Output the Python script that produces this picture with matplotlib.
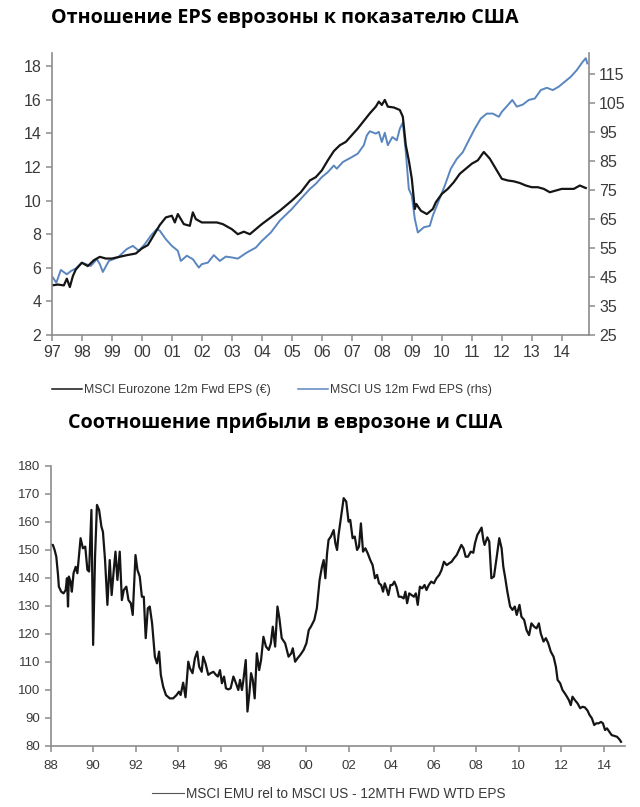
import matplotlib
matplotlib.use("Agg")
import matplotlib.pyplot as plt

# --- Верхний график: 12m Fwd EPS, еврозона (левая ось) и США (правая ось) ---
ez_years = [1997.0, 1997.2, 1997.4, 1997.5, 1997.6, 1997.7, 1997.8, 1998.0, 1998.2, 1998.4,
            1998.6, 1998.8, 1999.0, 1999.5, 1999.8, 2000.0, 2000.2, 2000.4, 2000.6, 2000.8,
            2001.0, 2001.1, 2001.2, 2001.4, 2001.6, 2001.7, 2001.8, 2002.0, 2002.5, 2002.7,
            2003.0, 2003.2, 2003.4, 2003.6, 2003.8, 2004.0, 2004.3, 2004.6, 2005.0, 2005.3,
            2005.6, 2005.8, 2006.0, 2006.2, 2006.4, 2006.6, 2006.8, 2007.0, 2007.2, 2007.4,
            2007.6, 2007.8, 2007.9, 2008.0, 2008.1, 2008.2, 2008.4, 2008.6, 2008.7, 2008.8,
            2008.9, 2009.0, 2009.1, 2009.15, 2009.3, 2009.5, 2009.7, 2009.8, 2010.0, 2010.2,
            2010.4, 2010.6, 2010.8, 2011.0, 2011.2, 2011.4, 2011.6, 2011.8, 2012.0, 2012.2,
            2012.4, 2012.6, 2012.8, 2013.0, 2013.2, 2013.4, 2013.6, 2013.8, 2014.0, 2014.2,
            2014.4, 2014.6, 2014.8]
ez_eps = [4.95, 5.0, 4.95, 5.35, 4.85, 5.5, 5.9, 6.3, 6.1, 6.45,
          6.65, 6.55, 6.55, 6.75, 6.85, 7.15, 7.35, 7.95, 8.55, 9.0,
          9.1, 8.7, 9.2, 8.6, 8.5, 9.3, 8.9, 8.7, 8.7, 8.6,
          8.3, 8.0, 8.15, 8.0, 8.3, 8.6, 9.0, 9.4, 10.0, 10.5,
          11.2, 11.4, 11.8, 12.4, 12.95, 13.3, 13.5, 13.9, 14.3, 14.75,
          15.2, 15.6, 15.9, 15.7, 16.0, 15.6, 15.55, 15.4, 15.0, 13.3,
          12.4, 11.3, 9.5, 9.8, 9.4, 9.2, 9.5, 9.9, 10.4, 10.7,
          11.1, 11.6, 11.9, 12.2, 12.4, 12.9, 12.5, 11.9, 11.3, 11.2,
          11.15, 11.05, 10.9, 10.8, 10.8, 10.7, 10.5, 10.6, 10.7, 10.7,
          10.7, 10.9, 10.75]

us_years = [1997.0, 1997.15, 1997.3, 1997.5, 1997.65, 1997.8, 1998.0, 1998.3, 1998.5, 1998.6,
            1998.7, 1998.9, 1999.2, 1999.5, 1999.7, 1999.9, 2000.1, 2000.3, 2000.5, 2000.6,
            2000.8, 2001.0, 2001.2, 2001.3, 2001.5, 2001.7, 2001.9, 2002.0, 2002.2, 2002.4,
            2002.6, 2002.8, 2003.0, 2003.2, 2003.5, 2003.8, 2004.0, 2004.3, 2004.6, 2005.0,
            2005.3, 2005.6, 2005.8, 2006.0, 2006.2, 2006.4, 2006.5, 2006.7, 2007.0, 2007.2,
            2007.4, 2007.5, 2007.6, 2007.8, 2007.9, 2008.0, 2008.1, 2008.2, 2008.35, 2008.5,
            2008.6, 2008.7, 2008.8, 2008.9, 2009.0, 2009.1, 2009.2, 2009.4, 2009.6, 2009.7,
            2009.9, 2010.1, 2010.3, 2010.5, 2010.7, 2010.9, 2011.1, 2011.3, 2011.5, 2011.7,
            2011.9, 2012.0, 2012.2, 2012.35, 2012.5, 2012.7, 2012.9, 2013.1, 2013.3, 2013.5,
            2013.7, 2013.9, 2014.1, 2014.3, 2014.5, 2014.7, 2014.8, 2014.85]
us_eps = [45.3, 43.0, 47.4, 45.9, 47.1, 47.9, 49.9, 48.8, 51.1, 49.4,
          46.7, 50.5, 51.7, 54.6, 55.7, 54.0, 56.3, 59.2, 61.5, 60.9,
          58.0, 55.7, 54.0, 50.5, 52.3, 51.1, 48.2, 49.4, 49.9, 52.5,
          50.5, 52.0, 51.7, 51.3, 53.4, 55.1, 57.4, 60.3, 64.4, 68.4,
          71.9, 75.3, 77.1, 79.4, 81.1, 83.4, 82.3, 84.6, 86.3, 87.5,
          90.4, 93.8, 95.2, 94.4, 95.0, 91.5, 94.7, 90.4, 93.2, 92.1,
          96.1, 98.2, 88.0, 75.3, 73.0, 65.0, 60.3, 62.1, 62.6, 66.1,
          71.3, 76.5, 82.3, 85.7, 88.0, 92.1, 96.1, 99.6, 101.3, 101.3,
          100.2, 101.9, 104.2, 106.0, 103.7, 104.4, 106.0, 106.5, 109.4, 110.2,
          109.4, 110.6, 112.3, 114.0, 116.3, 119.2, 120.4, 118.6]

top_ticks = list(range(1997, 2015))
top_labels = ["%02d" % (y % 100) for y in top_ticks]
left_ticks = [2, 4, 6, 8, 10, 12, 14, 16, 18]
right_ticks = [25, 35, 45, 55, 65, 75, 85, 95, 105, 115]

# --- Нижний график: MSCI EMU rel to MSCI US ---
rel_years = [1988.0, 1988.11, 1988.19, 1988.27, 1988.35, 1988.39, 1988.5, 1988.61, 1988.71, 1988.77,
             1988.82, 1988.86, 1988.94, 1989.0, 1989.08, 1989.18, 1989.26, 1989.33, 1989.41, 1989.52,
             1989.63, 1989.73, 1989.81, 1989.92, 1990.0, 1990.09, 1990.18, 1990.28, 1990.39, 1990.46,
             1990.56, 1990.67, 1990.78, 1990.87, 1990.97, 1991.05, 1991.14, 1991.25, 1991.35, 1991.44,
             1991.56, 1991.66, 1991.77, 1991.86, 1991.99, 1992.08, 1992.19, 1992.29, 1992.38, 1992.47,
             1992.57, 1992.66, 1992.77, 1992.9, 1993.0, 1993.1, 1993.18, 1993.29, 1993.42, 1993.6,
             1993.76, 1993.92, 1994.03, 1994.11, 1994.23, 1994.34, 1994.47, 1994.55, 1994.67, 1994.78,
             1994.89, 1994.98, 1995.1, 1995.17, 1995.28, 1995.41, 1995.52, 1995.65, 1995.77, 1995.86,
             1995.96, 1996.05, 1996.15, 1996.24, 1996.35, 1996.46, 1996.59, 1996.71, 1996.82, 1996.9,
             1996.99, 1997.05, 1997.17, 1997.25, 1997.34, 1997.42, 1997.5, 1997.59, 1997.69, 1997.8,
             1997.89, 1998.0, 1998.12, 1998.25, 1998.35, 1998.44, 1998.55, 1998.66, 1998.75, 1998.86,
             1999.02, 1999.18, 1999.31, 1999.38, 1999.49, 1999.6, 1999.73, 1999.89, 2000.02, 2000.13,
             2000.23, 2000.39, 2000.51, 2000.64, 2000.75, 2000.83, 2000.91, 2000.99, 2001.06, 2001.17,
             2001.3, 2001.38, 2001.46, 2001.53, 2001.65, 2001.77, 2001.89, 2002.0, 2002.08, 2002.19,
             2002.29, 2002.4, 2002.49, 2002.58, 2002.68, 2002.79, 2002.9, 2003.02, 2003.13, 2003.24,
             2003.34, 2003.43, 2003.53, 2003.62, 2003.7, 2003.78, 2003.87, 2003.97, 2004.06, 2004.15,
             2004.25, 2004.36, 2004.47, 2004.59, 2004.67, 2004.75, 2004.85, 2004.96, 2005.07, 2005.16,
             2005.25, 2005.35, 2005.46, 2005.57, 2005.66, 2005.77, 2005.88, 2006.01, 2006.13, 2006.26,
             2006.37, 2006.48, 2006.61, 2006.72, 2006.84, 2006.95, 2007.08, 2007.19, 2007.3, 2007.4,
             2007.5, 2007.61, 2007.74, 2007.86, 2007.94, 2008.05, 2008.14, 2008.25, 2008.33, 2008.39,
             2008.52, 2008.61, 2008.71, 2008.83, 2008.94, 2009.08, 2009.19, 2009.27, 2009.35, 2009.46,
             2009.59, 2009.7, 2009.81, 2009.9, 2010.03, 2010.12, 2010.25, 2010.36, 2010.48, 2010.59,
             2010.72, 2010.83, 2010.94, 2011.03, 2011.16, 2011.27, 2011.38, 2011.5, 2011.63, 2011.74,
             2011.82, 2011.94, 2012.05, 2012.16, 2012.26, 2012.35, 2012.44, 2012.52, 2012.63, 2012.76,
             2012.88, 2012.99, 2013.1, 2013.23, 2013.32, 2013.43, 2013.54, 2013.64, 2013.75, 2013.86,
             2013.95, 2014.05, 2014.14, 2014.25, 2014.36, 2014.49, 2014.61, 2014.72, 2014.8]
rel_vals = [151.8, 151.8, 150.0, 147.6, 141.1, 136.9, 135.1, 134.5, 135.7, 139.9,
            129.8, 140.5, 138.7, 135.1, 141.7, 144.0, 141.7, 147.6, 154.2, 150.6,
            151.2, 142.9, 142.3, 164.3, 116.1, 147.6, 166.1, 164.3, 158.3, 156.5,
            146.4, 130.4, 146.4, 133.9, 142.9, 149.4, 139.3, 149.4, 132.1, 135.7,
            136.9, 132.1, 131.0, 126.8, 148.2, 142.9, 140.5, 133.3, 133.3, 118.5,
            129.2, 129.8, 123.8, 111.9, 109.5, 113.7, 105.4, 101.2, 98.2, 97.0,
            97.0, 98.2, 99.4, 98.2, 102.6, 97.4, 110.1, 107.7, 106.0, 111.3,
            113.7, 108.3, 106.5, 111.9, 109.5, 105.4, 106.0, 106.5, 105.4, 104.8,
            107.1, 102.4, 104.8, 100.6, 100.2, 100.6, 104.8, 102.4, 100.0, 103.6,
            100.0, 103.0, 110.7, 92.3, 98.8, 106.0, 103.6, 97.0, 113.1, 107.1,
            110.7, 119.0, 115.5, 114.3, 116.7, 122.6, 115.5, 129.8, 125.6, 118.5,
            116.7, 111.9, 113.1, 114.9, 110.1, 111.3, 112.5, 114.3, 116.7, 121.4,
            122.6, 125.0, 129.2, 139.3, 144.0, 146.4, 139.9, 148.8, 153.6, 154.8,
            157.1, 152.4, 150.0, 155.4, 161.9, 168.5, 167.3, 160.1, 160.7, 154.2,
            154.8, 150.0, 151.2, 159.5, 149.4, 150.6, 148.8, 146.4, 144.6, 139.9,
            141.1, 138.1, 137.5, 135.1, 138.1, 136.3, 133.9, 137.5, 137.5, 138.7,
            136.9, 133.3, 133.3, 132.7, 135.1, 131.0, 134.5, 133.9, 133.3, 134.5,
            130.4, 136.9, 136.3, 137.5, 135.7, 137.5, 138.7, 138.1, 139.9, 141.1,
            142.9, 145.8, 144.6, 145.2, 145.8, 147.0, 148.2, 150.0, 151.8, 150.6,
            147.6, 147.6, 149.4, 149.0, 152.4, 155.4, 156.5, 158.0, 153.6, 151.8,
            154.5, 153.0, 139.9, 140.5, 146.4, 154.2, 150.6, 144.0, 140.5, 135.1,
            129.8, 128.6, 129.8, 126.8, 130.4, 126.2, 125.0, 121.4, 119.6, 123.8,
            122.6, 122.0, 123.8, 120.2, 117.3, 118.5, 116.7, 113.7, 111.9, 108.3,
            103.6, 102.4, 100.0, 98.8, 97.6, 96.4, 94.6, 97.6, 96.4, 95.2,
            93.5, 94.0, 93.8, 92.6, 91.1, 89.9, 87.5, 88.1, 88.1, 88.6,
            88.1, 85.7, 86.3, 85.1, 83.9, 83.6, 83.3, 82.4, 81.5]

bot_ticks = list(range(1988, 2015, 2))
bot_labels = ["%02d" % (y % 100) for y in bot_ticks]
bot_yticks = list(range(80, 181, 10))

narrow = ["Liberation Sans Narrow", "Liberation Sans", "DejaVu Sans"]
title_font = ["Open Sans", "DejaVu Sans"]
axis_grey = "#8c8c8c"
label_grey = "#3a3a3a"
blue = "#5a86bf"
black = "#151515"

fig = plt.figure(figsize=(6.4, 8.07), dpi=100)

fig.text(0.445, 0.978, "Отношение EPS еврозоны к показателю США", family=title_font,
         fontweight="bold", fontsize=14.2, ha="center", va="center")
fig.text(0.445, 0.476, "Соотношение прибыли в еврозоне и США", family=title_font,
         fontweight="bold", fontsize=14.2, ha="center", va="center")

# верхняя панель
ax1 = fig.add_axes([0.081, 0.585, 0.839, 0.349])
ax2 = ax1.twinx()
l1, = ax1.plot(ez_years, ez_eps, color=black, lw=1.6, label="MSCI Eurozone 12m Fwd EPS (€)")
l2, = ax2.plot(us_years, us_eps, color=blue, lw=1.4, label="MSCI US 12m Fwd EPS (rhs)")
ax1.set_zorder(ax2.get_zorder() + 1)
ax1.patch.set_visible(False)

ax1.set_xlim(1997, 2014.9)
ax1.set_ylim(2, 18.78)
ax2.set_ylim(25, 122.1)
ax1.set_xticks(top_ticks)
ax1.set_xticklabels(top_labels)
ax1.set_yticks(left_ticks)
ax2.set_yticks(right_ticks)

for ax in (ax1, ax2):
    ax.spines["top"].set_visible(False)
    for s in ("left", "right", "bottom"):
        ax.spines[s].set_color(axis_grey)
        ax.spines[s].set_linewidth(1.2)
    ax.tick_params(colors=axis_grey, labelcolor=label_grey, length=4, width=1.1,
                   labelsize=11.5)
    for t in ax.get_xticklabels() + ax.get_yticklabels():
        t.set_family(narrow)
ax1.spines["right"].set_visible(False)
ax2.spines["left"].set_visible(False)
ax2.spines["bottom"].set_visible(False)

leg1 = fig.legend(handles=[l1, l2], loc="center", bbox_to_anchor=(0.425, 0.517), ncol=2,
                  frameon=False, handlelength=2.4, handletextpad=0.15, columnspacing=2.3,
                  prop={"family": narrow, "size": 8.8})
for t in leg1.get_texts():
    t.set_color(label_grey)
for ln in leg1.get_lines():
    ln.set_linewidth(1.1)

# нижняя панель
ax3 = fig.add_axes([0.079, 0.0756, 0.898, 0.347])
l3, = ax3.plot(rel_years, rel_vals, color=black, lw=1.6,
               label="MSCI EMU rel to MSCI US - 12MTH FWD WTD EPS")
ax3.set_xlim(1988, 2015)
ax3.set_ylim(80, 180)
ax3.set_xticks(bot_ticks)
ax3.set_xticklabels(bot_labels)
ax3.set_yticks(bot_yticks)
ax3.spines["top"].set_visible(False)
ax3.spines["right"].set_visible(False)
for s in ("left", "bottom"):
    ax3.spines[s].set_color(axis_grey)
    ax3.spines[s].set_linewidth(1.2)
ax3.tick_params(colors=axis_grey, labelcolor=label_grey, length=4, width=1.1, labelsize=9.5)
ax3.tick_params(axis="x", pad=6)
for t in ax3.get_xticklabels() + ax3.get_yticklabels():
    t.set_family(narrow)

leg2 = fig.legend(handles=[l3], loc="center", bbox_to_anchor=(0.513, 0.016), frameon=False,
                  handlelength=2.4, handletextpad=0.1, prop={"family": narrow, "size": 9.8})
leg2.get_lines()[0].set_linewidth(0.8)
leg2.get_lines()[0].set_color("#555555")
for t in leg2.get_texts():
    t.set_color(label_grey)

fig.savefig("out.png", dpi=100)
